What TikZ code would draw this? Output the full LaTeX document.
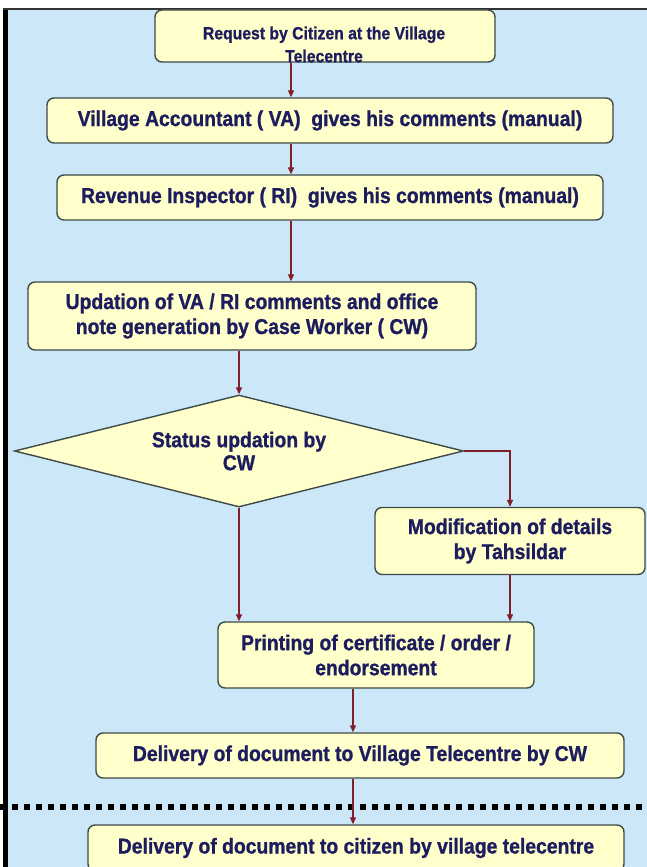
\documentclass[tikz,border=0pt]{standalone}
\usepackage{fontspec}
\setmainfont{Liberation Sans}
\newfontfamily\boxfont[FakeStretch=0.9, FakeBold=1]{Liberation Sans}
\usetikzlibrary{arrows.meta}
\usetikzlibrary{shapes.geometric}
\usetikzlibrary{positioning}

\definecolor{sky}{HTML}{CCE8F8}
\definecolor{cream}{HTML}{FFFFCC}
\definecolor{rim}{HTML}{3E4B47}
\definecolor{ink}{HTML}{1C1C5E}
\definecolor{wine}{HTML}{7F1F2A}

\begin{document}
\begin{tikzpicture}[
    x = 1pt, y = 1pt,
    >={Triangle[length=7pt, width=6pt]},
    stepbox/.style = {
      draw = rim, fill = cream, line width = 1.4pt,
      rounded corners = 7pt, text = ink, align = center,
      inner sep = 0pt,
      font = \boxfont\bfseries\fontsize{21.5}{25}\selectfont,
    },
    choice/.style = {
      diamond, aspect = 4, draw = rim, fill = cream, line width = 1.4pt,
      text = ink, align = center, inner sep = 0pt,
      font = \boxfont\bfseries\fontsize{21.5}{23}\selectfont,
    },
    flow/.style = {wine, line width = 1.3pt, ->},
  ]

  \useasboundingbox (0,0) rectangle (647,-867);
  \clip (0,0) rectangle (647,-867);
  \fill[sky] (3,-8) rectangle (647,-867);
  \fill[black] (3,-8) rectangle (8,-867);
  \fill[black!80] (3,-8) rectangle (647,-10);

  \coordinate (colA) at (291,0);
  \coordinate (colB) at (353,0);

  \node[stepbox, minimum width = 340pt, minimum height = 52pt] (req) at (325,-36) {};
  \node[text = ink, font = \boxfont\bfseries\fontsize{17.5}{23}\selectfont, align = center]
    (reqtxt) at (324,-44.5) {Request by Citizen at the Village\\Telecentre};

  \node[stepbox, minimum width = 566pt, minimum height = 45pt] (va) at (330,-120.5)
    {Village Accountant ( VA)\ \ gives his comments (manual)};
  \node[stepbox, minimum width = 546pt, minimum height = 45pt] (ri) at (330,-197.5)
    {Revenue Inspector ( RI)\ \ gives his comments (manual)};
  \node[stepbox, minimum width = 448pt, minimum height = 68pt] (upd) at (252,-316)
    {Updation of VA / RI comments and office\\note generation by Case Worker ( CW)};

  \node[choice, minimum width = 449pt, minimum height = 112pt] (dia) at (239,-451)
    {Status updation by\\CW};

  \node[stepbox, minimum width = 270pt, minimum height = 67pt] (mod) at (510,-541)
    {Modification of details\\by Tahsildar};
  \node[stepbox, minimum width = 316pt, minimum height = 66pt] (prt) at (376,-655)
    {Printing of certificate / order /\\endorsement};
  \node[stepbox, minimum width = 528pt, minimum height = 45pt] (cw) at (360,-755.5)
    {Delivery of document to Village Telecentre by CW};
  \node[stepbox, minimum width = 536pt, minimum height = 46pt] (cit) at (356,-848)
    {Delivery of document to citizen by village telecentre};

  % separator between office and telecentre
  \draw[black, line width = 6pt, dash pattern = on 6pt off 6pt]
    (0,-807) -- (647,-807);

  \draw[flow] (req.south -| colA) to (va.north -| colA);
  \draw[flow] (va.south -| colA) to (ri.north -| colA);
  \draw[flow] (ri.south -| colA) to (upd.north -| colA);
  \draw[flow] (upd.south -| dia.north) to (dia.north);
  \draw[flow] (dia.south) to (prt.north -| dia.south);
  \draw[flow] (dia.east) -| (mod.north);
  \draw[flow] (mod.south) to (prt.north -| mod.south);
  \draw[flow] (prt.south -| colB) to (cw.north -| colB);
  \draw[flow] (cw.south -| colB) to (cit.north -| colB);
\end{tikzpicture}
\end{document}
